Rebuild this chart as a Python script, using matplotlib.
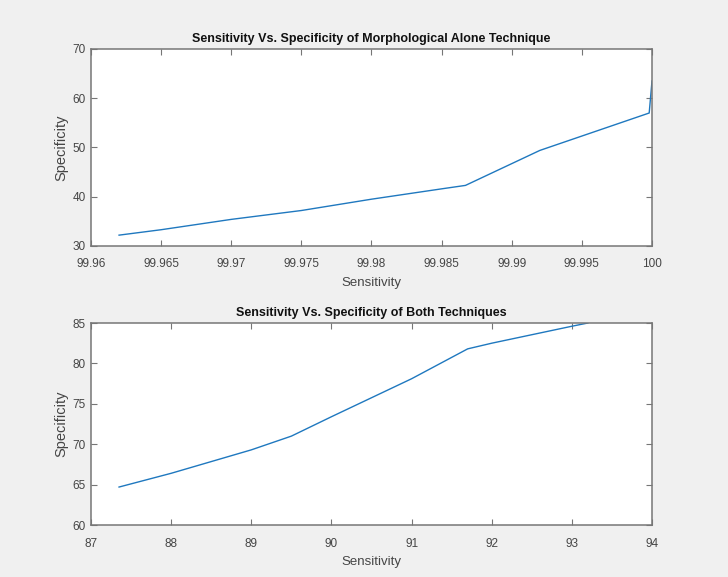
import matplotlib.pyplot as plt

# data
sens_morph = [99.962, 99.965, 99.970, 99.975, 99.980, 99.985, 99.9867, 99.992, 99.9998, 100.0]
spec_morph = [32.2, 33.3, 35.4, 37.2, 39.5, 41.6, 42.3, 49.4, 57.0, 63.5]

sens_both = [87.35, 88.0, 89.0, 89.5, 90.0, 91.0, 91.7, 92.0, 93.0, 93.2]
spec_both = [64.7, 66.4, 69.3, 71.0, 73.4, 78.1, 81.8, 82.5, 84.6, 85.0]

plt.rcParams['font.family'] = ['Liberation Sans', 'DejaVu Sans']

line_col = '#1f78bf'
txt_col = '#454545'
edge_col = '#767676'

fig = plt.figure(figsize=(7.28, 5.77), dpi=100)
fig.patch.set_facecolor('#f0f0f0')

ax1 = fig.add_axes([0.125, 0.5737, 0.7706, 0.3414])
ax2 = fig.add_axes([0.125, 0.0901, 0.7706, 0.3501])


def style(ax, title, xlim, ylim, xticks, yticks, xlabels):
    ax.set_facecolor('white')
    ax.set_xlim(*xlim)
    ax.set_ylim(*ylim)
    ax.set_xticks(xticks)
    ax.set_xticklabels(xlabels)
    ax.set_yticks(yticks)
    ax.tick_params(direction='in', top=True, right=True, length=4.5, width=0.8,
                   colors=edge_col, labelcolor=txt_col, labelsize=8.5)
    ax.tick_params(axis='x', pad=9)
    ax.tick_params(axis='y', pad=4)
    for s in ax.spines.values():
        s.set_color(edge_col)
        s.set_linewidth(1.1)
    ax.set_title(title, fontsize=9, fontweight='bold', color='#111111', pad=5)
    ax.set_xlabel('Sensitivity', fontsize=9.5, color=txt_col, labelpad=5)
    ax.set_ylabel('Specificity', fontsize=10.5, color=txt_col, labelpad=3)


ax1.plot(sens_morph, spec_morph, color=line_col, lw=1.0)
style(ax1, 'Sensitivity Vs. Specificity of Morphological Alone Technique',
      (99.96, 100.0), (30, 70),
      [99.96, 99.965, 99.97, 99.975, 99.98, 99.985, 99.99, 99.995, 100.0],
      [30, 40, 50, 60, 70],
      ['99.96', '99.965', '99.97', '99.975', '99.98', '99.985', '99.99', '99.995', '100'])

ax2.plot(sens_both, spec_both, color=line_col, lw=1.0)
style(ax2, 'Sensitivity Vs. Specificity of Both Techniques',
      (87, 94), (60, 85),
      [87, 88, 89, 90, 91, 92, 93, 94],
      [60, 65, 70, 75, 80, 85],
      ['87', '88', '89', '90', '91', '92', '93', '94'])

fig.savefig('out.png', dpi=100, facecolor=fig.get_facecolor())
